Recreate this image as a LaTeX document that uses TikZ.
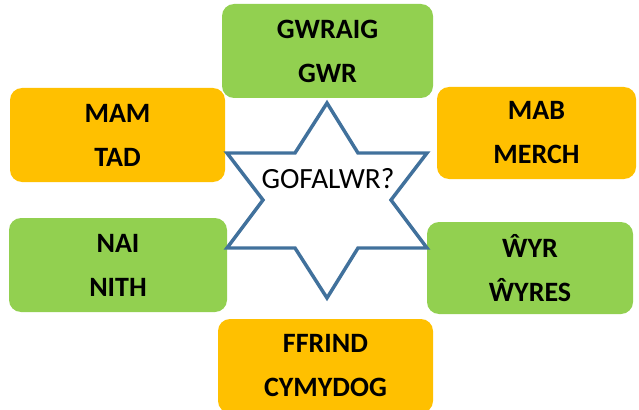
\documentclass[tikz,border=0pt]{standalone}
\usepackage{fontspec}
\setmainfont{Carlito}
\definecolor{boxgreen}{HTML}{92D050}
\definecolor{boxorange}{HTML}{FFC000}
\definecolor{starblue}{HTML}{41719C}
\tikzset{
	relbox/.style={rounded corners=9pt, align=center, inner sep=0pt,
		font=\bfseries\fontsize{21}{33}\selectfont},
	greenbox/.style={relbox, fill=boxgreen},
	orangebox/.style={relbox, fill=boxorange},
}

\begin{document}
\begin{tikzpicture}[x=0.75pt, y=-0.75pt]
		%%%%% START %%%%%
		
		\useasboundingbox (0, 0) rectangle (639, 410);
		\clip (0, 0) rectangle (639, 410);
		
		% boxes round the star
		\node[greenbox, minimum width=158.25pt, minimum height=70.5pt] (gwraig) at (327.5, 51) {GWRAIG\\GWR};
		\node[orangebox, minimum width=161.25pt, minimum height=70.5pt] (mam) at (117.5, 135) {MAM\\TAD};
		\node[orangebox, minimum width=149.25pt, minimum height=69pt] (mab) at (536.5, 133) {MAB\\MERCH};
		\node[greenbox, minimum width=163.5pt, minimum height=70.5pt] (nai) at (118, 265) {NAI\\NITH};
		\node[greenbox, minimum width=154.5pt, minimum height=69pt] (wyr) at (530, 268) {ŴYR\\ŴYRES};
		\node[orangebox, minimum width=161.25pt, minimum height=70.5pt] (ffrind) at (325.5, 366) {FFRIND\\CYMYDOG};
		
		% star
		\draw[line width=2.6pt, color=starblue, fill=white, line join=miter]
			(327, 103) -- (358, 153) -- (427, 153) -- (391, 200) -- (427, 248) -- (358, 248)
			-- (327, 298) -- (295, 248) -- (227, 248) -- (263, 200) -- (227, 153) -- (295, 153) -- cycle;
		\node[font=\fontsize{22}{26}\selectfont] (gofalwr) at (328, 179) {GOFALWR?};
		
		%%%%% END %%%%%
\end{tikzpicture}
\end{document}
